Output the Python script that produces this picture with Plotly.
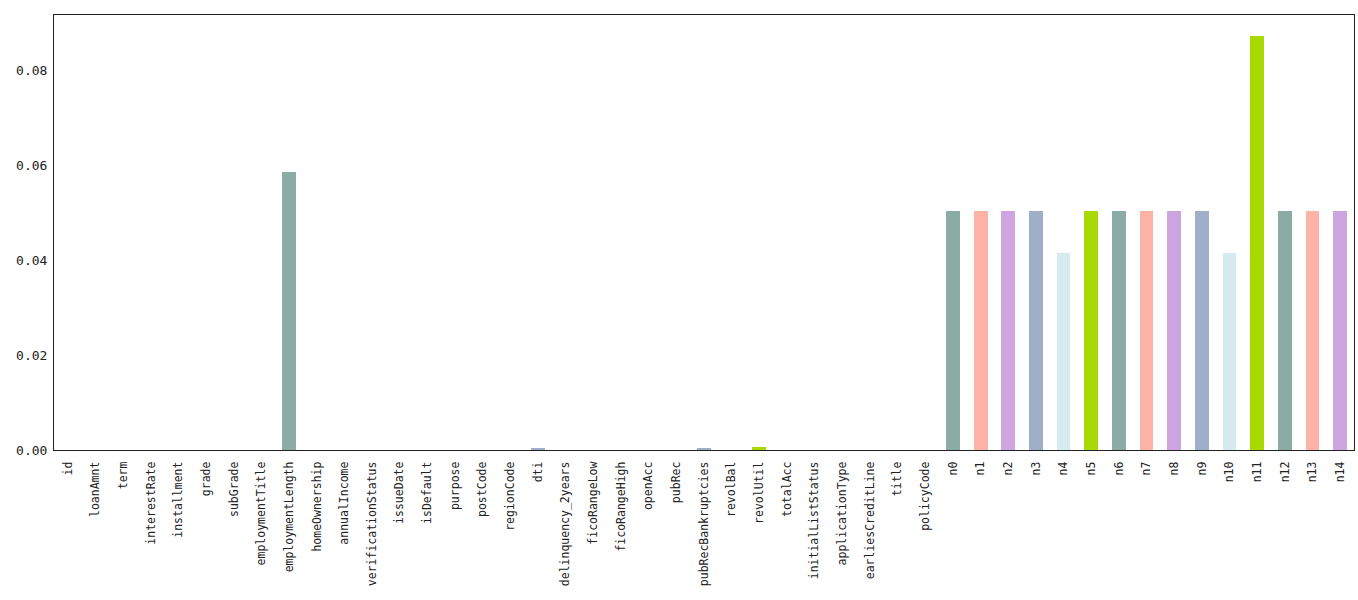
import plotly.graph_objects as go

features = ["id", "loanAmnt", "term", "interestRate", "installment", "grade", "subGrade",
            "employmentTitle", "employmentLength", "homeOwnership", "annualIncome",
            "verificationStatus", "issueDate", "isDefault", "purpose", "postCode", "regionCode",
            "dti", "delinquency_2years", "ficoRangeLow", "ficoRangeHigh", "openAcc", "pubRec",
            "pubRecBankruptcies", "revolBal", "revolUtil", "totalAcc", "initialListStatus",
            "applicationType", "earliesCreditLine", "title", "policyCode",
            "n0", "n1", "n2", "n3", "n4", "n5", "n6", "n7", "n8", "n9", "n10", "n11", "n12", "n13", "n14"]

missing_ratio = [0, 0, 0, 0, 0, 0, 0,
                 0, 0.0585, 0, 0,
                 0, 0, 0, 0, 0, 0,
                 0.0003, 0, 0, 0, 0, 0,
                 0.0005, 0, 0.00066, 0, 0,
                 0, 0, 0, 0,
                 0.0503, 0.0503, 0.0503, 0.0503, 0.0415, 0.0503, 0.0503, 0.0503, 0.0503, 0.0503,
                 0.0415, 0.0872, 0.0503, 0.0503, 0.0503]

palette = ["#D6EBF0", "#A8D900", "#8AACA4", "#FFB3A7", "#CDA5E0", "#A0AFC8"]

colors = [palette[i % len(palette)] for i in range(len(features))]
xpos = list(range(len(features)))

y_ticks = [0.0, 0.02, 0.04, 0.06, 0.08]
y_tick_text = ["%.2f" % v for v in y_ticks]

fig = go.Figure(go.Bar(x=xpos, y=missing_ratio, marker=dict(color=colors, line=dict(width=0)),
                       width=0.5))

font_family = "DejaVu Sans Mono"
fig.update_layout(
    width=1358, height=600,
    margin=dict(l=54, r=4, t=15, b=150),
    plot_bgcolor="white", paper_bgcolor="white",
    showlegend=False,
    font=dict(family=font_family, size=12, color="#222222"),
    bargap=0,
)
fig.update_xaxes(
    range=[-0.5, len(features) - 0.5],
    tickmode="array", tickvals=xpos, ticktext=features,
    tickangle=-90, tickfont=dict(family=font_family, size=11.5, color="#222222"),
    showline=True, linecolor="#222222", linewidth=1, mirror=True,
    showgrid=False, zeroline=False, ticks="", ticklabelstandoff=6,
)
fig.update_yaxes(
    range=[0, 0.0916],
    tickmode="array", tickvals=y_ticks, ticktext=y_tick_text,
    tickfont=dict(family=font_family, size=13, color="#222222"),
    showline=True, linecolor="#222222", linewidth=1, mirror=True,
    showgrid=False, zeroline=False, ticks="", ticklabelstandoff=3,
)

fig.write_html("out.html")
